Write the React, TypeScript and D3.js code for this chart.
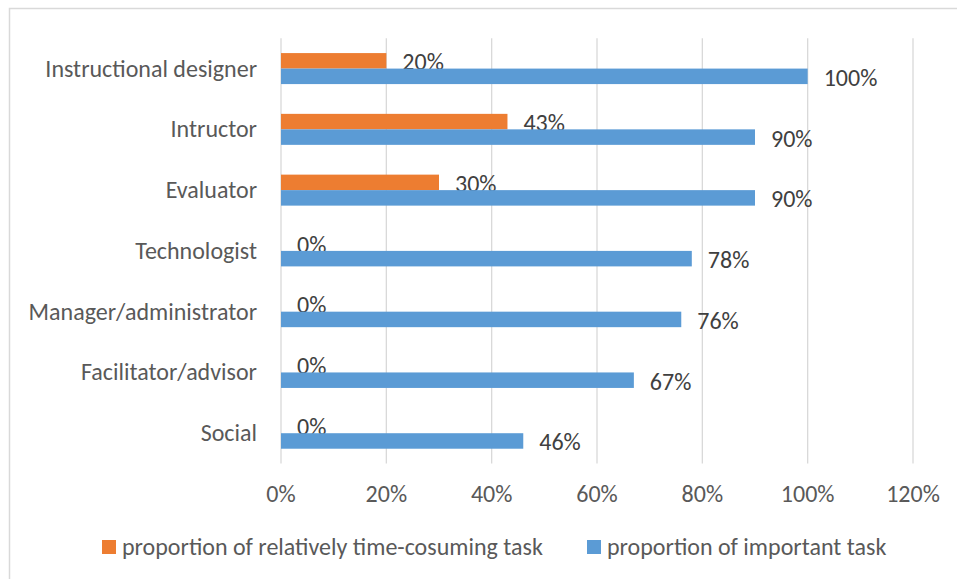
import React, { useEffect, useRef } from "react";
import * as d3 from "d3";

const categories = [
  "Instructional designer",
  "Intructor",
  "Evaluator",
  "Technologist",
  "Manager/administrator",
  "Facilitator/advisor",
  "Social",
];
const timeConsuming = [0.2, 0.43, 0.3, 0, 0, 0, 0];
const important = [1.0, 0.9, 0.9, 0.78, 0.76, 0.67, 0.46];
const xTicks = [0, 0.2, 0.4, 0.6, 0.8, 1.0, 1.2];
const seriesNames = [
  "proportion of relatively time-cosuming task",
  "proportion of important task",
];
const colors = ["#ED7D31", "#5B9BD5"];

const FONT = "Carlito, Calibri, Lato, 'Liberation Sans', sans-serif";
const FS = 24;

export default function App() {
  const svgRef = useRef<SVGSVGElement>(null);

  useEffect(() => {
    const width = 957;
    const height = 579;
    const margin = { top: 38.2, right: 45, bottom: 116, left: 281 };

    const svg = d3.select(svgRef.current).attr("width", width).attr("height", height);
    svg.selectAll("*").remove();

    // chart frame
    svg.append("rect")
      .attr("x", 9.5).attr("y", 8.5)
      .attr("width", width + 20).attr("height", height + 20)
      .attr("fill", "#fff").attr("stroke", "#d9d9d9").attr("stroke-width", 1.5);

    const x = d3.scaleLinear()
      .domain([0, 1.2])
      .range([margin.left, width - margin.right + 1]);

    const y = d3.scaleBand()
      .domain(categories)
      .range([margin.top, height - margin.bottom + 0.6])
      .paddingInner(0)
      .paddingOuter(0);

    const bandW = y.bandwidth();
    const barH = 15.5;
    const groupTop = (c: string) => y(c)! + (bandW - barH * 2) / 2;

    // gridlines
    svg.append("g")
      .selectAll("line")
      .data(xTicks)
      .enter().append("line")
      .attr("x1", d => x(d)).attr("x2", d => x(d))
      .attr("y1", margin.top).attr("y2", height - margin.bottom + 0.6)
      .attr("stroke", "#d9d9d9").attr("stroke-width", 1.3);

    // tick labels
    svg.append("g")
      .selectAll("text")
      .data(xTicks)
      .enter().append("text")
      .attr("x", d => x(d)).attr("y", 502)
      .attr("text-anchor", "middle")
      .attr("font-family", FONT).attr("font-size", FS).attr("fill", "#595959")
      .text(d => d3.format(".0%")(d));

    // category labels
    svg.append("g")
      .selectAll("text")
      .data(categories)
      .enter().append("text")
      .attr("x", 257).attr("y", c => y(c)! + bandW / 2 + 8)
      .attr("text-anchor", "end")
      .attr("font-family", FONT).attr("font-size", FS).attr("fill", "#595959")
      .text(c => c);

    const series = [timeConsuming, important];
    series.forEach((vals, si) => {
      const g = svg.append("g");
      g.selectAll("rect")
        .data(vals)
        .enter().append("rect")
        .attr("x", x(0))
        .attr("y", (d, i) => groupTop(categories[i]) + si * barH)
        .attr("width", d => x(d) - x(0))
        .attr("height", barH)
        .attr("fill", colors[si]);
      g.selectAll("text")
        .data(vals)
        .enter().append("text")
        .attr("x", d => x(d) + 16)
        .attr("y", (d, i) => groupTop(categories[i]) + si * barH + barH / 2 + 9.5)
        .attr("font-family", FONT).attr("font-size", FS).attr("fill", "#404040")
        .text(d => d3.format(".0%")(d));
    });

    // legend
    const legendX = [102, 587];
    seriesNames.forEach((name, i) => {
      svg.append("rect")
        .attr("x", legendX[i]).attr("y", 540)
        .attr("width", 14).attr("height", 14)
        .attr("fill", colors[i]);
      svg.append("text")
        .attr("x", legendX[i] + 20).attr("y", 555)
        .attr("font-family", FONT).attr("font-size", FS).attr("fill", "#595959")
        .text(name);
    });
  }, []);

  return (
    <svg ref={svgRef} style={{ position: "absolute", left: 0, top: 0 }}></svg>
  );
}
